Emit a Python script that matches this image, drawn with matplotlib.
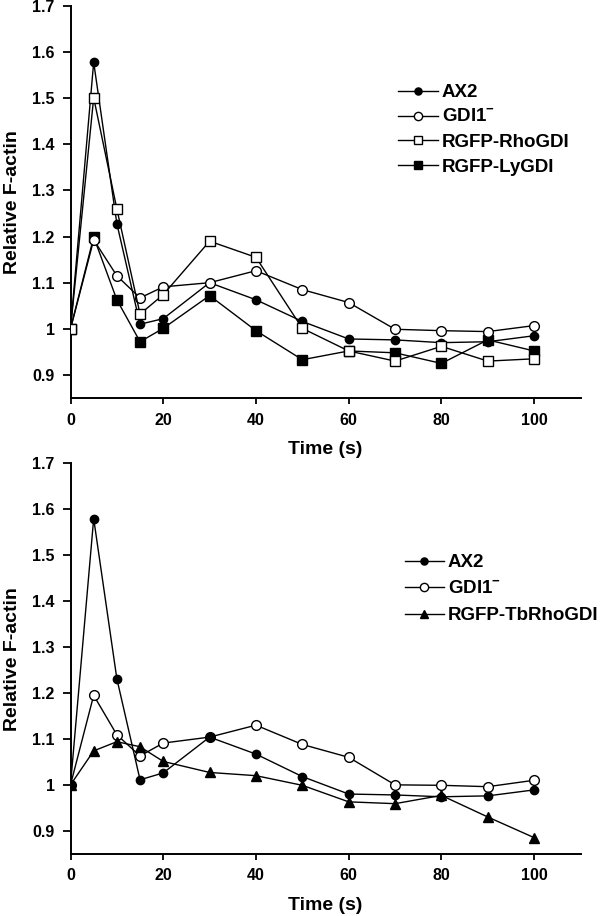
import numpy as np
import matplotlib
matplotlib.use("Agg")
import matplotlib.pyplot as plt

plt.rcParams['font.family'] = ['Liberation Sans', 'DejaVu Sans']
plt.rcParams['font.weight'] = 'bold'
plt.rcParams['mathtext.fontset'] = 'custom'
plt.rcParams['mathtext.bf'] = 'Liberation Sans:bold'
plt.rcParams['mathtext.rm'] = 'Liberation Sans:bold'

# time points (s)
time = [0, 5, 10, 15, 20, 30, 40, 50, 60, 70, 80, 90, 100]

# top panel
ax2_top = [1.0, 1.578, 1.228, 1.01, 1.022, 1.10, 1.063, 1.016, 0.978, 0.976, 0.97, 0.972, 0.985]
gdi1_top = [1.0, 1.193, 1.115, 1.067, 1.091, 1.10, 1.126, 1.085, 1.057, 0.999, 0.996, 0.994, 1.007]
rho_top = [1.0, 1.501, 1.26, 1.032, 1.074, 1.19, 1.155, 1.001, 0.952, 0.93, 0.962, 0.93, 0.935]
ly_top = [1.0, 1.199, 1.063, 0.972, 1.001, 1.072, 0.996, 0.933, 0.952, 0.948, 0.925, 0.976, 0.952]

# bottom panel
ax2_bot = [1.0, 1.58, 1.231, 1.011, 1.026, 1.104, 1.067, 1.018, 0.98, 0.978, 0.974, 0.976, 0.989]
gdi1_bot = [1.0, 1.195, 1.109, 1.063, 1.091, 1.104, 1.13, 1.088, 1.06, 1.0, 0.999, 0.996, 1.01]
tb_bot = [1.0, 1.074, 1.094, 1.083, 1.051, 1.027, 1.02, 0.999, 0.963, 0.959, 0.977, 0.93, 0.885]

yticks = [0.9, 1.0, 1.1, 1.2, 1.3, 1.4, 1.5, 1.6, 1.7]
ytick_labels = ['0.9', '1', '1.1', '1.2', '1.3', '1.4', '1.5', '1.6', '1.7']
xticks = [0, 20, 40, 60, 80, 100]

gdi_label = r'GDI1$^{\mathbf{-}}$'

fig = plt.figure(figsize=(6, 9.16), dpi=100)
ax1 = fig.add_axes([0.1175, 0.5655, 0.85, 0.428])
ax2 = fig.add_axes([0.1175, 0.068, 0.85, 0.426])

lw = 1.0
ax1.plot(time, ly_top, '-s', color='black', mfc='black', mec='black', ms=7, lw=lw, label='RGFP-LyGDI', zorder=2)
ax1.plot(time, ax2_top, '-o', color='black', mfc='black', mec='black', ms=6, lw=lw, label='AX2', zorder=3)
ax1.plot(time, gdi1_top, '-o', color='black', mfc='white', mec='black', ms=7, mew=1.0, lw=lw, label=gdi_label, zorder=4)
ax1.plot(time, rho_top, '-s', color='black', mfc='white', mec='black', ms=7, mew=1.0, lw=lw, label='RGFP-RhoGDI', zorder=5)

ax2.plot(time, tb_bot, '-^', color='black', mfc='black', mec='black', ms=6.5, lw=lw, label='RGFP-TbRhoGDI', zorder=3)
ax2.plot(time, gdi1_bot, '-o', color='black', mfc='white', mec='black', ms=7, mew=1.0, lw=lw, label=gdi_label, zorder=2)
ax2.plot(time, ax2_bot, '-o', color='black', mfc='black', mec='black', ms=6, lw=lw, label='AX2', zorder=4)

for ax in (ax1, ax2):
    ax.set_xlim(0, 110)
    ax.set_ylim(0.85, 1.7)
    ax.set_xticks(xticks)
    ax.set_yticks(yticks)
    ax.set_yticklabels(ytick_labels)
    ax.spines['top'].set_visible(False)
    ax.spines['right'].set_visible(False)
    ax.spines['left'].set_linewidth(1.4)
    ax.spines['bottom'].set_linewidth(1.4)
    ax.tick_params(axis='y', direction='out', length=5.5, width=1.3, labelsize=11.5, pad=6)
    ax.tick_params(axis='x', direction='out', length=4.5, width=1.3, labelsize=11.5, pad=6)
    for lbl in ax.get_xticklabels() + ax.get_yticklabels():
        lbl.set_fontweight('bold')
    ax.set_xlabel('Time (s)', fontsize=14, fontweight='bold', labelpad=10)
    ax.set_ylabel('Relative F-actin', fontsize=14, fontweight='bold', labelpad=8)

# legends in original order
h, l = ax1.get_legend_handles_labels()
order = [1, 2, 3, 0]
ax1.legend([h[i] for i in order], [l[i] for i in order], loc='upper left',
           bbox_to_anchor=(0.643, 0.80), frameon=False, fontsize=13.5,
           handlelength=2.1, handletextpad=0.2, labelspacing=0.4,
           borderpad=0, borderaxespad=0, markerscale=0.85)

h, l = ax2.get_legend_handles_labels()
order = [2, 1, 0]
ax2.legend([h[i] for i in order], [l[i] for i in order], loc='upper left',
           bbox_to_anchor=(0.655, 0.768), frameon=False, fontsize=13.5,
           handlelength=2.1, handletextpad=0.2, labelspacing=0.5,
           borderpad=0, borderaxespad=0, markerscale=0.85)

fig.savefig('out.png', dpi=100)
